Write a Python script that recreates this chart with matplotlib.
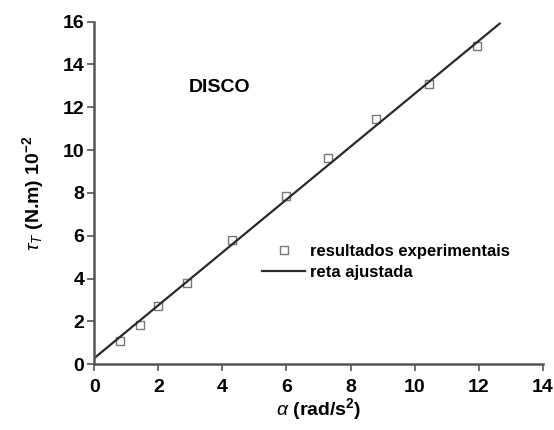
import matplotlib.pyplot as plt
import numpy as np

# dados experimentais (alpha em rad/s^2, torque em N.m x 10^-2)
alpha = [0.81, 1.43, 1.98, 2.91, 4.29, 5.98, 7.31, 8.79, 10.45, 11.93]
torque = [1.08, 1.83, 2.72, 3.81, 5.78, 7.87, 9.63, 11.44, 13.1, 14.87]

# reta ajustada
fit_intercept = 0.28
fit_slope = 1.235
fit_x = [0.0, 12.65]

xticks = [0, 2, 4, 6, 8, 10, 12, 14]
yticks = [0, 2, 4, 6, 8, 10, 12, 14, 16]

plt.rcParams['font.family'] = ['Liberation Sans', 'DejaVu Sans']
plt.rcParams['mathtext.fontset'] = 'custom'
plt.rcParams['mathtext.rm'] = 'Liberation Sans:bold'
plt.rcParams['mathtext.it'] = 'Liberation Sans:italic'

fig = plt.figure(figsize=(5.54, 4.3), dpi=100)
ax = fig.add_axes([0.17, 0.153, 0.81, 0.797])

ax.plot(alpha, torque, 's', mfc='none', mec='#777777', ms=6, mew=1.0,
        linestyle='none', label='resultados experimentais')
fx = np.array(fit_x)
ax.plot(fx, fit_intercept + fit_slope * fx, color='#2a2a2a', lw=1.6,
        label='reta ajustada')

ax.set_xlim(0, 14)
ax.set_ylim(0, 16)
ax.set_xticks(xticks)
ax.set_yticks(yticks)

for side in ['top', 'right']:
    ax.spines[side].set_visible(False)
for side in ['left', 'bottom']:
    ax.spines[side].set_linewidth(1.8)
    ax.spines[side].set_color('#555555')
ax.tick_params(direction='out', length=5, width=1.2, color='#555555',
               labelsize=14)
ax.tick_params(axis='x', pad=6)
ax.tick_params(axis='y', pad=2)
for lab in ax.get_xticklabels() + ax.get_yticklabels():
    lab.set_fontweight('bold')

ax.set_xlabel(r'$\alpha$ (rad/s$^2$)', fontsize=14, fontweight='bold', labelpad=0)
ax.set_ylabel(r'$\tau_T$ (N.m) 10$^{-2}$', fontsize=14, fontweight='bold', labelpad=12)

ax.text(3.9, 12.9, 'DISCO', fontsize=14, fontweight='bold', ha='center', va='center')

leg = ax.legend(loc='upper left', bbox_to_anchor=(0.374, 0.352), frameon=False,
                fontsize=12, handlelength=2.6, handletextpad=0.3,
                borderaxespad=0, borderpad=0, labelspacing=0.4)
for t in leg.get_texts():
    t.set_fontweight('bold')

plt.savefig('out.png', dpi=100)
